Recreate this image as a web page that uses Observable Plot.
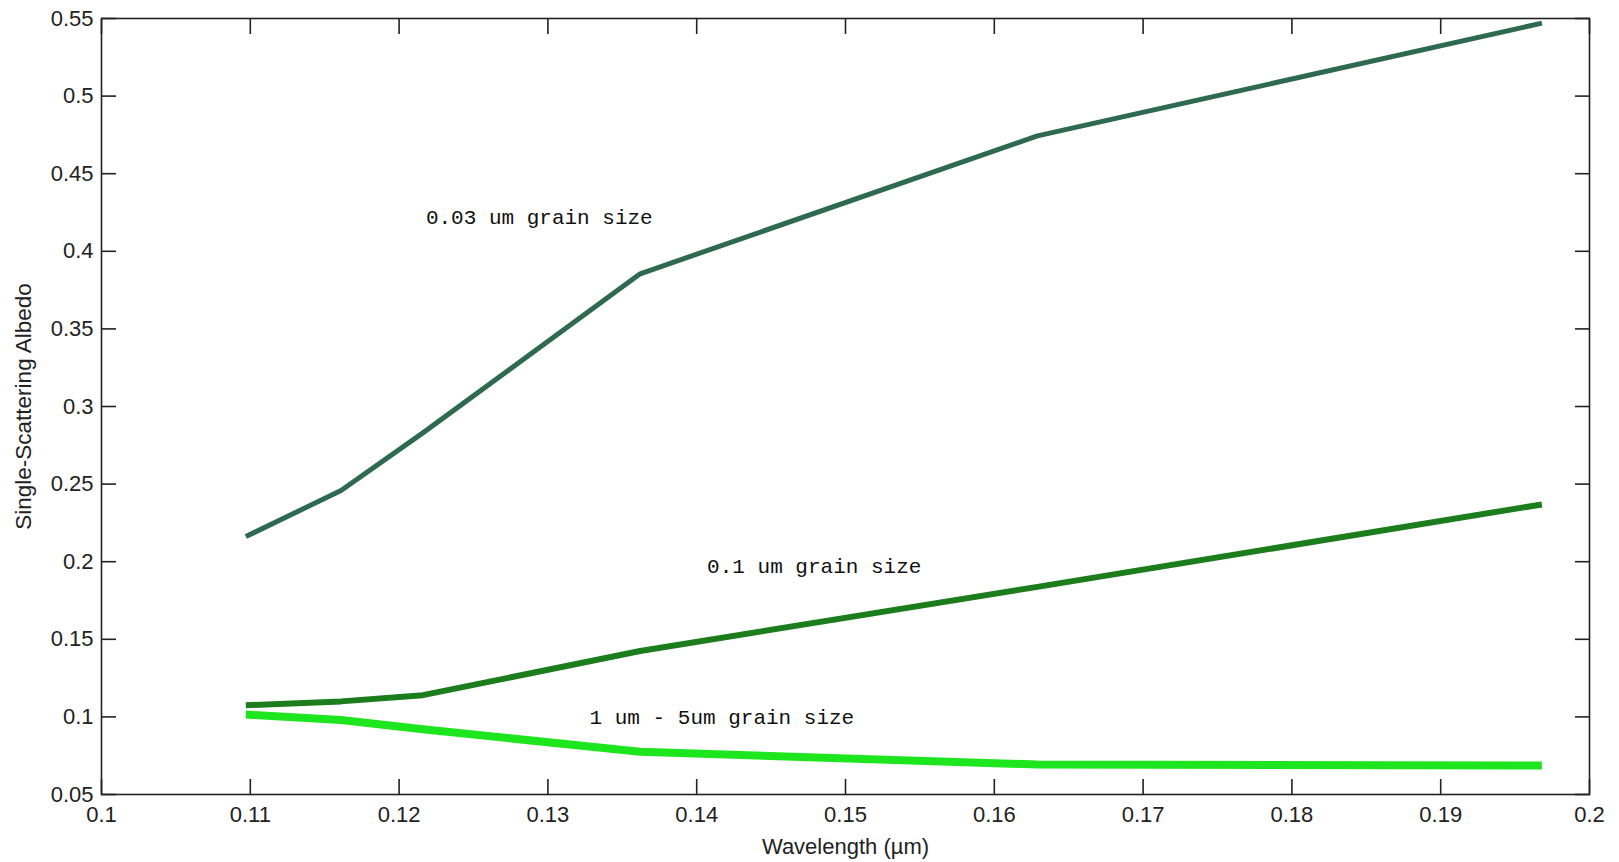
<!DOCTYPE html>
<html>
<head>
<meta charset="utf-8">
<script src="https://cdn.jsdelivr.net/npm/d3@7"></script>
<script src="https://cdn.jsdelivr.net/npm/@observablehq/plot@0.6"></script>
<style>
  html, body { margin: 0; padding: 0; background: #fff; }
  #chart svg { display: block; }
</style>
</head>
<body>
<div id="chart"></div>
<script>
// Wavelength sample points (µm)
const wavelength = [0.1097, 0.1161, 0.1216, 0.1362, 0.1629, 0.1968];
// Single-scattering albedo per grain size
const albedo003 = [0.2162, 0.2459, 0.2830, 0.3855, 0.4744, 0.5470];
const albedo01  = [0.1075, 0.1100, 0.1140, 0.1425, 0.1838, 0.2369];
const albedo1to5 = [0.1015, 0.0980, 0.0920, 0.0775, 0.0693, 0.0687];

const seriesNames = ["0.03 um", "0.1 um", "1-5 um"];
const seriesColors = ["#2e6a4f", "#1c7d1c", "#1ee61e"];
const seriesWidths = [5, 6, 8];

// Annotations
const annoText = ["0.03 um grain size", "0.1 um grain size", "1 um - 5um grain size"];
const annoX = [0.1218, 0.1407, 0.1328];
const annoY = [0.4218, 0.1969, 0.0999];

const xTicks = [0.1, 0.11, 0.12, 0.13, 0.14, 0.15, 0.16, 0.17, 0.18, 0.19, 0.2];
const yTicks = [0.05, 0.1, 0.15, 0.2, 0.25, 0.3, 0.35, 0.4, 0.45, 0.5, 0.55];

const allSeries = [albedo003, albedo01, albedo1to5];
const rows = allSeries.map((vals, s) =>
  wavelength.map((w, i) => ({series: seriesNames[s], x: w, y: vals[i]}))
);
const annos = annoText.map((t, i) => ({t, x: annoX[i], y: annoY[i]}));

const fmt = d => String(+d.toFixed(2));
const tickFont = {fontSize: 22, fontFamily: "'Liberation Sans', Arial, sans-serif", fill: "#222"};

const marks = [];
rows.forEach((r, s) => {
  marks.push(Plot.line(r, {x: "x", y: "y", stroke: seriesColors[s], strokeWidth: seriesWidths[s], strokeLinejoin: "round", strokeLinecap: "butt"}));
});
marks.push(
  Plot.frame({stroke: "#222", strokeWidth: 1.6}),
  // inward ticks on all four sides
  Plot.axisX({anchor: "bottom", ticks: xTicks, tickSize: -15, tickFormat: () => "", stroke: "#222", strokeWidth: 1.6, label: null}),
  Plot.axisX({anchor: "top", ticks: xTicks, tickSize: -15, tickFormat: () => "", stroke: "#222", strokeWidth: 1.6, label: null}),
  Plot.axisY({anchor: "left", ticks: yTicks, tickSize: -15, tickFormat: () => "", stroke: "#222", strokeWidth: 1.6, label: null}),
  Plot.axisY({anchor: "right", ticks: yTicks, tickSize: -15, tickFormat: () => "", stroke: "#222", strokeWidth: 1.6, label: null}),
  // tick labels
  Plot.axisX({anchor: "bottom", ticks: xTicks, tickSize: 0, tickPadding: 12, tickFormat: fmt, label: null, ...tickFont}),
  Plot.axisY({anchor: "left", ticks: yTicks, tickSize: 0, tickPadding: 8, tickFormat: fmt, label: null, ...tickFont}),
  // axis titles
  Plot.text(["Wavelength (µm)"], {frameAnchor: "bottom", dy: 52, lineAnchor: "middle", text: d => d, ...tickFont}),
  Plot.text(["Single-Scattering Albedo"], {frameAnchor: "left", dx: -78, rotate: -90, lineAnchor: "middle", textAnchor: "middle", text: d => d, ...tickFont, fontSize: 22.5}),
  // annotations
  Plot.text(annos, {x: "x", y: "y", text: "t", textAnchor: "start", lineAnchor: "middle", fontFamily: "'Liberation Mono', 'DejaVu Sans Mono', monospace", fontSize: 21, fill: "#111"})
);

const chart = Plot.plot({
  width: 1619,
  height: 862,
  marginLeft: 101,
  marginRight: 30,
  marginTop: 18,
  marginBottom: 68,
  style: {background: "#fff", overflow: "visible"},
  x: {domain: [0.1, 0.2], axis: null},
  y: {domain: [0.05, 0.55], axis: null},
  marks
});
document.getElementById("chart").appendChild(chart);
</script>
</body>
</html>
